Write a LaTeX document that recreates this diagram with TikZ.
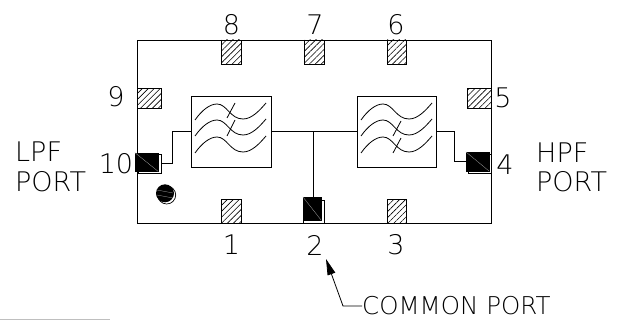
\documentclass[tikz,border=0pt]{standalone}
\usepackage{fontspec}
\setmainfont{DejaVu Sans ExtraLight}
\usetikzlibrary{patterns.meta,arrows.meta}
\tikzset{
  ln/.style={draw=black,line width=0.9pt},
  hatchpad/.style={draw=black,line width=0.8pt,inner sep=0pt,pattern={Lines[angle=45,distance=4.2pt,line width=0.6pt]}},
  vpad/.style={hatchpad,minimum width=19.5pt,minimum height=24pt},
  hpad/.style={hatchpad,minimum width=24pt,minimum height=19.5pt},
  blackpad/.style={draw=black,fill=black,inner sep=0pt},
  whitepad/.style={draw=black,fill=white,line width=0.8pt,inner sep=0pt},
  filterbox/.style={ln,fill=white,inner sep=0pt,minimum width=79.5pt,minimum height=71pt},
  lbl/.style={inner sep=0pt,font=\fontsize{27}{27}\selectfont},
  port/.style={inner sep=0pt,font=\fontsize{27}{27}\selectfont,anchor=west},
  wave/.pic={
    \draw[line width=0.8pt] (3,24) .. controls (10,14) and (18,8) .. (25,8) .. controls (35,8) and (38,23) .. (51,23) .. controls (60,23) and (68,14) .. (74,7);
  }
}
\begin{document}
\begin{tikzpicture}[x=1pt,y=-1pt]
\useasboundingbox (0,0) rectangle (617,320);
\draw[ln] (137,40) rectangle (491,223);
\node[vpad] (p8) at (231.5,52) {};
\node[vpad] (p7) at (314.5,52) {};
\node[vpad] (p6) at (397,52) {};
\node[hpad] (p9) at (149,98.5) {};
\node[hpad] (p5) at (479,98.5) {};
\node[vpad] (p1) at (231.5,211) {};
\node[vpad] (p3) at (397,211) {};
% offset outlines and black pads
\node[whitepad,minimum width=23pt,minimum height=19pt] (p10) at (149.5,163.5) {};
\node[blackpad,minimum width=23pt,minimum height=18.5pt] (b10) at (146.5,162) {};
\node[whitepad,minimum width=21pt,minimum height=23pt] (p2) at (313.5,211.5) {};
\node[blackpad,minimum width=18pt,minimum height=23pt] (b2) at (312,208.5) {};
\node[whitepad,minimum width=23pt,minimum height=19pt] (p4) at (479.5,163.5) {};
\node[blackpad,minimum width=23pt,minimum height=19pt] (b4) at (477.5,161.5) {};
\draw[gray!70,line width=0.3pt] (b10.north west) -- (b10.south east);
\draw[gray!70,line width=0.3pt] (b2.north west) -- (b2.south east);
\draw[gray!70,line width=0.3pt] (b4.north west) -- (b4.south east);
% filters
\node[filterbox] (fl) at (231.5,131.5) {};
\node[filterbox] (fr) at (397,131.5) {};
\foreach \d in {0,16,33}{
  \begin{scope}[shift={(192,96+\d)}] \pic {wave}; \end{scope}
  \begin{scope}[shift={(358,96+\d)}] \pic {wave}; \end{scope}
}
\draw[line width=0.8pt] (235,103) -- (227,118) (235,120) -- (227,136);
\draw[line width=0.8pt] (401,121) -- (393,136) (401,138) -- (393,153);
% connectors
\draw[ln] (fl.west) -- ++(-18.5,0) |- (p10.east);
\draw[ln] (fl.east) -- (fr.west);
\draw[ln] (fr.east) -- ++(17.5,0) |- (b4.west);
\coordinate (tee) at (fl.east -| p2.north);
\draw[ln] (tee) -- (tee |- b2.north);
% index dot
\draw[line width=0.7pt] (166.7,195) circle (9);
\fill[black] (165,193.3) circle (9);
\draw[gray!60,line width=0.25pt] (157,190) -- (173,193) (157,195) -- (173,198);
% pin labels
\node[lbl] (t8) at (231.5,25) {8};
\node[lbl] (t7) at (315,25) {7};
\node[lbl] (t6) at (396,25) {6};
\node[lbl] (t9) at (116,97) {9};
\node[lbl] (t5) at (503,98) {5};
\node[lbl] (t10) at (116,164) {10};
\node[lbl] (t4) at (505,165) {4};
\node[lbl] (t1) at (231.5,245) {1};
\node[lbl] (t2) at (315,245) {2};
\node[lbl] (t3) at (396,245) {3};
% port labels
\node[port] (lpf) at (15,152) {LPF};
\node[port] (lport) at (15,181.5) {PORT};
\node[port] (hpf) at (536,152.5) {HPF};
\node[port] (hport) at (536,181.5) {PORT};
\node[port,font=\fontsize{24.5}{24.5}\selectfont] (cport) at (362,306) {COMMON PORT};
\coordinate (tip) at (326,259);
\coordinate (knee) at (343,306);
\draw[line width=0.8pt,{Stealth[length=16pt,width=8pt,inset=0pt]}-] (tip) -- (knee) -- (cport.west);
% stray rule
\coordinate (ra) at (0,319);
\coordinate (rb) at (110,319);
\draw[gray!50,line width=0.8pt] (ra) -- (rb);
\end{tikzpicture}
\end{document}
